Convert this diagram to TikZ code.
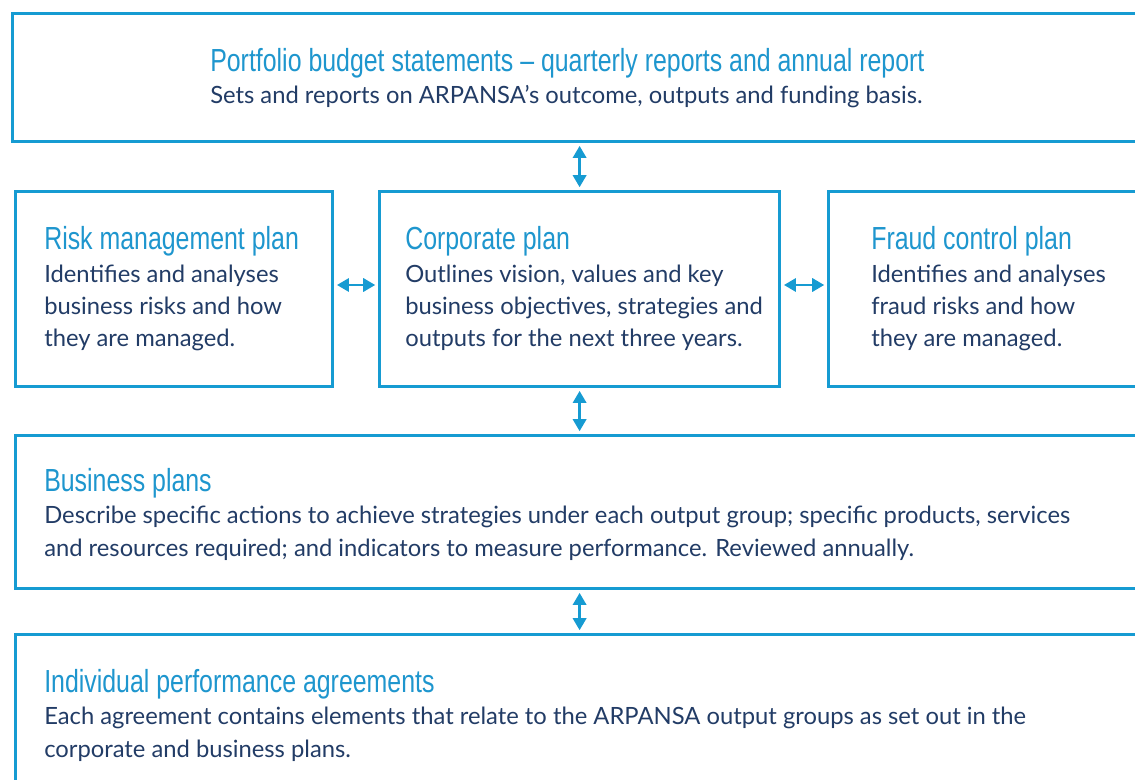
\documentclass[tikz,border=0pt]{standalone}
\usepackage{fontspec}
\setmainfont{Lato}
\newfontfamily\headfont[FakeStretch=0.78]{Liberation Sans}
\usetikzlibrary{arrows.meta}
\definecolor{abline}{RGB}{22,155,210}
\definecolor{abhead}{RGB}{30,150,206}
\definecolor{abtext}{RGB}{34,60,102}
\newcommand\planhead[1]{{\headfont\fontsize{22.7}{23}\selectfont\color{abhead}#1}}

\begin{document}
\begin{tikzpicture}[x=0.025cm,y=-0.025cm,
  planbox/.style={draw=abline, line width=2.2pt, anchor=north west, inner sep=0pt},
  plantext/.style={anchor=base west, align=left, inner sep=0pt, text=abtext,
    font=\fontsize{16.9}{23}\selectfont},
  link/.style={draw=abline, line width=1.6pt, shorten <=2pt, shorten >=2pt,
    {Triangle[length=8.5pt,width=9.5pt]}-{Triangle[length=8.5pt,width=9.5pt]}}]
\clip (0,0) rectangle (1135,780);
\fill[white] (0,0) rectangle (1135,780);

\node[planbox, minimum width=28.725cm, minimum height=3.2cm] (pbs) at (11,12) {};
\node[planbox, minimum width=7.925cm, minimum height=4.875cm] (risk) at (14,190) {};
\node[planbox, minimum width=10cm, minimum height=4.875cm] (corp) at (378,190) {};
\node[planbox, minimum width=8.325cm, minimum height=4.875cm] (fraud) at (827,190) {};
\node[planbox, minimum width=28.65cm, minimum height=3.825cm] (biz) at (14,434) {};
\node[planbox, minimum width=28.65cm, minimum height=4.4cm] (indiv) at (14,633) {};

% text nodes sit on the baseline of their last line
\node[plantext] (pbstext) at (210,104) {\planhead{Portfolio budget statements – quarterly reports and annual report}\\
  Sets and reports on ARPANSA’s outcome, outputs and funding basis.};
\node[plantext] (risktext) at (44,347) {\planhead{Risk management plan}\\
  Identifies and analyses\\ business risks and how\\ they are managed.};
\node[plantext] (corptext) at (405,347) {\planhead{Corporate plan}\\
  Outlines vision, values and key\\ business objectives, strategies and\\ outputs for the next three years.};
\node[plantext] (fraudtext) at (871,347) {\planhead{Fraud control plan}\\
  Identifies and analyses\\ fraud risks and how\\ they are managed.};
\node[plantext] (biztext) at (44,556) {\planhead{Business plans}\\
  Describe specific actions to achieve strategies under each output group; specific products, services\\
  and resources required; and indicators to measure performance. Reviewed annually.};
\node[plantext] (indivtext) at (44,757) {\planhead{Individual performance agreements}\\
  Each agreement contains elements that relate to the ARPANSA output groups as set out in the\\
  corporate and business plans.};

\draw[link] (pbs.south -| corp) -- (corp.north);
\draw[link] (risk.east |- 0,285) -- (corp.west |- 0,285);
\draw[link] (corp.east |- 0,285) -- (fraud.west |- 0,285);
\draw[link] (corp.south) -- (biz.north -| corp);
\draw[link] (biz.south -| corp) -- (indiv.north -| corp);
\end{tikzpicture}
\end{document}
